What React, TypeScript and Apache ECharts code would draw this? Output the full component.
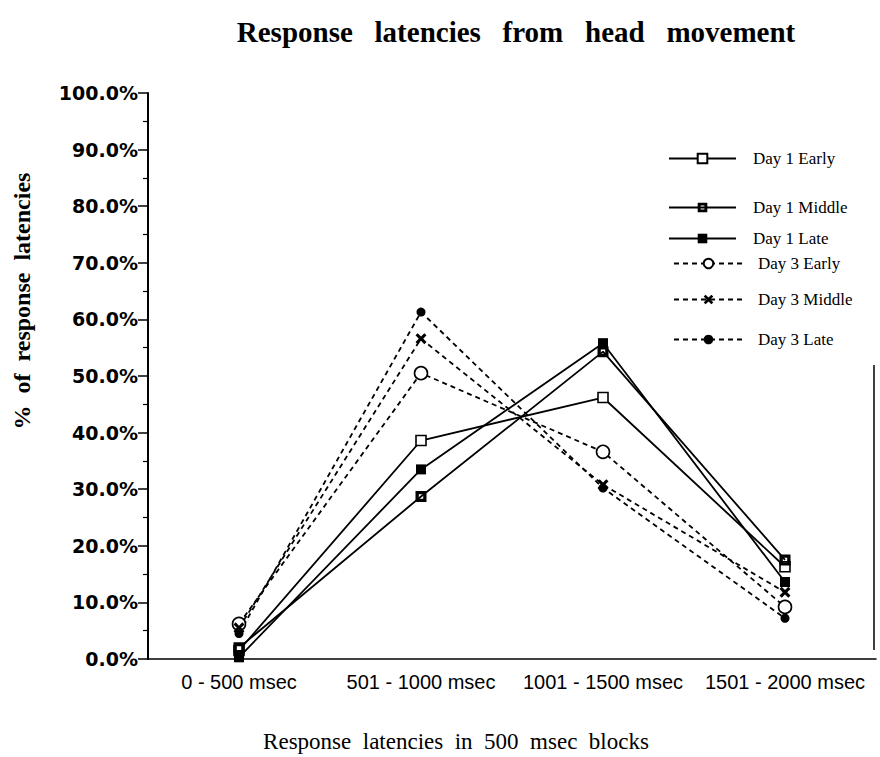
import React, { useEffect, useRef } from "react";
import * as echarts from "echarts";

const categories = ["0 - 500 msec", "501 - 1000 msec", "1001 - 1500 msec", "1501 - 2000 msec"];
const yTicks = [0, 10, 20, 30, 40, 50, 60, 70, 80, 90, 100];

const day1Early = [1.5, 38.6, 46.2, 16.3];
const day1Middle = [2.0, 28.7, 54.3, 17.5];
const day1Late = [0.3, 33.5, 55.8, 13.6];
const day3Early = [6.2, 50.5, 36.6, 9.2];
const day3Middle = [5.5, 56.6, 30.8, 11.8];
const day3Late = [4.5, 61.3, 30.2, 7.2];

const seriesNames = ["Day 1 Early", "Day 1 Middle", "Day 1 Late", "Day 3 Early", "Day 3 Middle", "Day 3 Late"];
const legendTops = [150, 199, 230, 255, 291, 331];

const CROSS = "path://M0,2 L2,0 L5,3 L8,0 L10,2 L7,5 L10,8 L8,10 L5,7 L2,10 L0,8 L3,5 Z";
const HOLLOW_SQ = "path://M0,0 H10 V10 H0 Z M3,3 V7 H7 V3 Z";

export default function App() {
  const ref = useRef<HTMLDivElement>(null);
  useEffect(() => {
    if (!ref.current) return;
    const chart = echarts.init(ref.current, null, { renderer: "svg" });
    const solid = { color: "#000", width: 1.8, type: "solid" as const };
    const dashed = { color: "#000", width: 1.8, type: [5, 4] as any };
    const mk = (name: string, data: number[], line: any, symbol: string, size: number, item: any, z: number) => ({
      name,
      type: "line",
      data,
      symbol,
      symbolSize: size,
      lineStyle: line,
      itemStyle: item,
      z,
      emphasis: { disabled: true },
    });
    const series = [
      mk(seriesNames[0], day1Early, solid, "rect", 10, { color: "#fff", borderColor: "#000", borderWidth: 1.6 }, 3),
      mk(seriesNames[1], day1Middle, solid, HOLLOW_SQ, 11, { color: "#000", borderWidth: 0 }, 3),
      mk(seriesNames[2], day1Late, solid, "rect", 10, { color: "#000", borderWidth: 0 }, 3),
      mk(seriesNames[3], day3Early, dashed, "circle", 13, { color: "#fff", borderColor: "#000", borderWidth: 1.6 }, 4),
      mk(seriesNames[4], day3Middle, dashed, CROSS, 11, { color: "#000", borderWidth: 0 }, 4),
      mk(seriesNames[5], day3Late, dashed, "circle", 9, { color: "#000", borderWidth: 0 }, 4),
    ];
    const legends = seriesNames.map((n, i) => ({
      data: [n],
      left: i < 3 ? 668 : 673,
      top: legendTops[i],
      padding: 0,
      orient: "vertical",
      itemWidth: i < 3 ? 67 : 69,
      itemHeight: 12,
      selectedMode: false,
      textStyle: {
        fontFamily: "Liberation Serif",
        fontSize: 17,
        color: "#000",
        padding: [0, 0, 0, i < 3 ? 12 : 10],
      },
    }));
    chart.setOption({
      animation: false,
      backgroundColor: "#fff",
      title: {
        text: "Response   latencies   from   head   movement",
        left: 511,
        top: 12,
        textAlign: "center",
        textStyle: { fontFamily: "Liberation Serif", fontWeight: "bold", fontSize: 29, color: "#000" },
      },
      legend: legends,
      grid: { left: 148, right: 4, top: 93, bottom: 98, containLabel: false },
      xAxis: {
        type: "category",
        data: categories,
        boundaryGap: true,
        axisLine: { lineStyle: { color: "#000", width: 1.6 } },
        axisTick: { alignWithLabel: true, length: 7, lineStyle: { color: "#000", width: 1.5 } },
        axisLabel: { fontFamily: "Liberation Sans", fontSize: 20, color: "#000", margin: 13, interval: 0 },
      },
      yAxis: {
        type: "value",
        min: 0,
        max: 100,
        interval: 10,
        axisLine: { show: true, lineStyle: { color: "#000", width: 2 } },
        axisTick: { show: true, length: 10, lineStyle: { color: "#000", width: 1.5 } },
        minorTick: { show: true, splitNumber: 2, length: 5, lineStyle: { color: "#000", width: 1.2 } },
        splitLine: { show: false },
        axisLabel: {
          fontFamily: "DejaVu Sans",
          fontWeight: "bold",
          fontSize: 19,
          color: "#000",
          margin: 10,
          formatter: (v: number) => `${v.toFixed(1)}%`,
        },
      },
      graphic: [
        {
          type: "text",
          x: 456,
          y: 741,
          style: {
            text: "Response  latencies  in  500  msec  blocks",
            fontFamily: "Liberation Serif",
            fontSize: 23,
            fill: "#000",
            align: "center",
            verticalAlign: "middle",
          },
        },
        {
          type: "text",
          x: 22,
          y: 301,
          rotation: Math.PI / 2,
          style: {
            text: "%  of  response  latencies",
            fontFamily: "Liberation Serif",
            fontWeight: "bold",
            fontSize: 24,
            fill: "#000",
            align: "center",
            verticalAlign: "middle",
          },
        },
        {
          type: "line",
          shape: { x1: 874, y1: 365, x2: 874, y2: 650 },
          style: { stroke: "#000", lineWidth: 1.5 },
        },
      ],
      series,
    });
    return () => chart.dispose();
  }, []);
  return <div ref={ref} style={{ position: "absolute", left: 0, top: 0, width: 880, height: 757 }} />;
}
